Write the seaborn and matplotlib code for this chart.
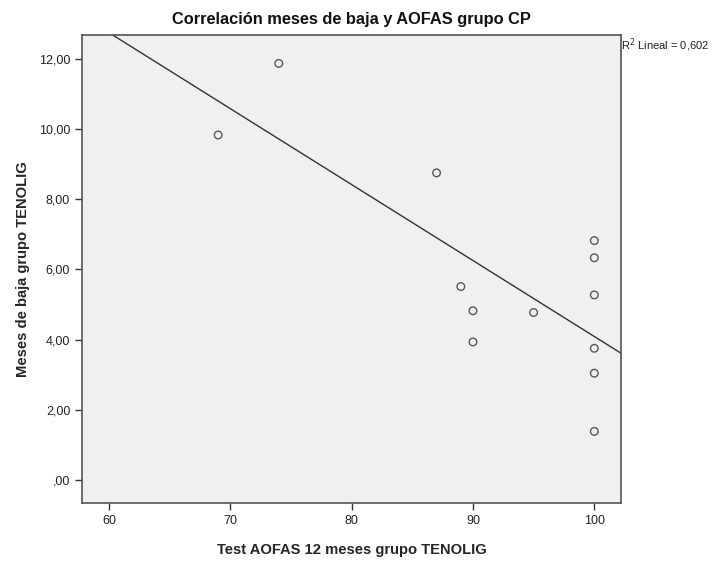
import matplotlib
matplotlib.use("Agg")
import matplotlib.pyplot as plt
import seaborn as sns
import numpy as np
import pandas as pd
from matplotlib.ticker import FuncFormatter

aofas = [69, 74, 87, 89, 90, 90, 95, 100, 100, 100, 100, 100, 100]
meses = [9.83, 11.87, 8.75, 5.51, 4.82, 3.93, 4.77, 6.82, 6.33, 5.27, 3.75, 3.04, 1.38]
x_ticks = [60, 70, 80, 90, 100]
y_ticks = [0, 2, 4, 6, 8, 10, 12]

df = pd.DataFrame({"aofas": aofas, "meses": meses})

sns.set_theme(style="ticks")
plt.rcParams['font.family'] = ['Liberation Sans', 'DejaVu Sans']

fig = plt.figure(figsize=(7.2, 5.63), dpi=100)
ax = fig.add_axes([82/720, 1-503/563, (621-82)/720, (503-35)/563])
ax.set_facecolor("#F0F0F0")
ax.set_xlim(57.78, 102.2)
ax.set_ylim(-0.66, 12.68)

sns.regplot(data=df, x="aofas", y="meses", ax=ax, ci=None, truncate=False,
            scatter_kws=dict(s=30, facecolors="none", edgecolors="#333333", linewidths=1.0),
            line_kws=dict(color="#333333", lw=1.0), marker="o")
ax.set_xlim(57.78, 102.2)
ax.set_ylim(-0.66, 12.68)

ax.set_xticks(x_ticks)
ax.set_yticks(y_ticks)
ax.yaxis.set_major_formatter(FuncFormatter(lambda v, p: (",00" if v == 0 else f"{v:.2f}".replace(".", ","))))
ax.tick_params(direction="out", length=5, width=1, colors="#333333", labelsize=9, labelcolor="#222222")
for s in ax.spines.values():
    s.set_color("#555555")
    s.set_linewidth(1.2)

ax.set_xlabel("Test AOFAS 12 meses grupo TENOLIG", fontsize=10.6, fontweight="bold", labelpad=12)
ax.set_ylabel("Meses de baja grupo TENOLIG", fontsize=10.6, fontweight="bold", labelpad=6)
ax.set_title("Correlación meses de baja y AOFAS grupo CP", fontsize=11.8, fontweight="bold", pad=8, color="#111111")

ax.text(1.0, 0.997, "R$^2$ Lineal = 0,602", transform=ax.transAxes, fontsize=8,
        ha="left", va="top", color="#222222")

fig.savefig("out.png", dpi=100)
